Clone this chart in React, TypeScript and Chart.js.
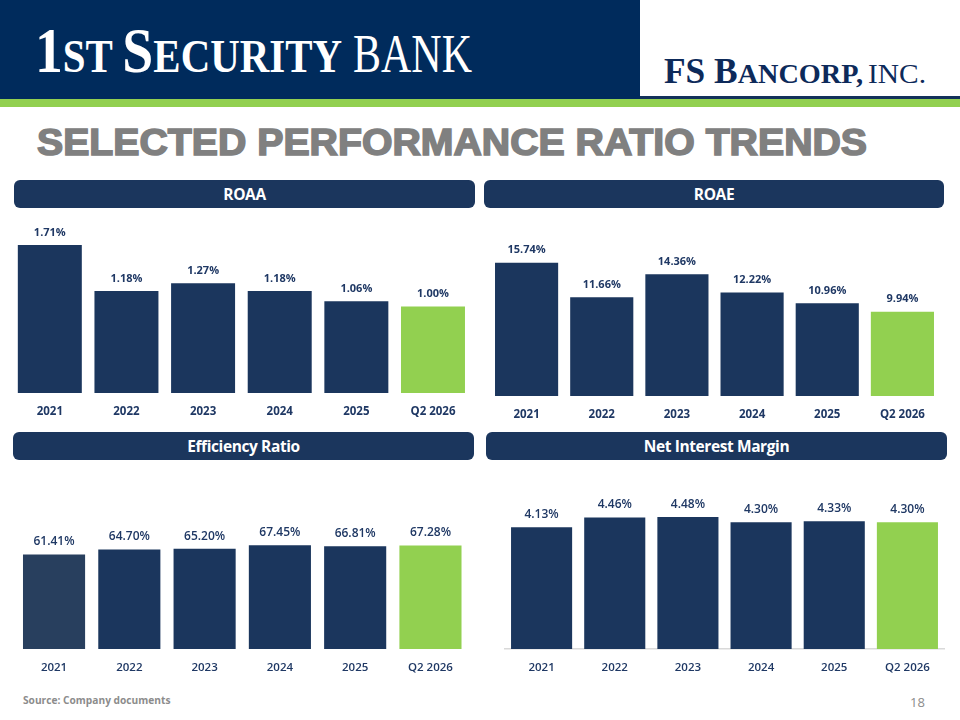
import React, { useEffect, useRef } from 'react';
import { Chart, registerables } from 'chart.js';

Chart.register(...registerables);

const years = ['2021', '2022', '2023', '2024', '2025', 'Q2 2026'];
const roaa = [1.71, 1.18, 1.27, 1.18, 1.06, 1.0];
const roae = [15.74, 11.66, 14.36, 12.22, 10.96, 9.94];
const efficiency = [61.41, 64.7, 65.2, 67.45, 66.81, 67.28];
const nim = [4.13, 4.46, 4.48, 4.3, 4.33, 4.3];

const NAVY = '#1b365d';
const GREEN = '#92d050';
const TEXT = '#1f3864';
const FONT = "'Open Sans', 'Noto Sans', sans-serif";

const navyThenGreen = [NAVY, NAVY, NAVY, NAVY, NAVY, GREEN];
const effColors = ['#283f5e', NAVY, NAVY, NAVY, NAVY, GREEN];

// draws the "x.xx%" figure above each bar
const valueLabels = {
  id: 'valueLabels',
  afterDatasetsDraw(chart: any, _args: any, opts: any) {
    const { ctx } = chart;
    const meta = chart.getDatasetMeta(0);
    ctx.save();
    ctx.font = opts.font;
    ctx.fillStyle = opts.color;
    ctx.textAlign = 'center';
    ctx.textBaseline = 'middle';
    meta.data.forEach((bar: any, i: number) => {
      const v = chart.data.datasets[0].data[i] as number;
      ctx.fillText(v.toFixed(2) + '%', bar.x, bar.y - opts.offset);
    });
    ctx.restore();
  },
};

interface BarPanelProps {
  title: string;
  values: number[];
  colors: string[];
  yMax: number;
  left: number;
  width: number;
  top: number; // canvas top
  plotTop: number; // chart area top (page coords)
  baseline: number; // chart area bottom (page coords)
  plotLeft: number;
  plotRight: number;
  barPct: number;
  valueFont: string;
  tickWeight: string | number;
  headerLeft: number;
  headerTop: number;
  headerWidth: number;
  axisLine?: boolean;
}

const TICK_SIZE = 11.5;
const TICK_PAD = 12;

const BarPanel: React.FC<BarPanelProps> = (p) => {
  const ref = useRef<HTMLCanvasElement>(null);
  // the x axis ends up taking the tick padding twice plus one line
  const axisH = 2 * TICK_PAD + TICK_SIZE * 1.2 + 1;
  const height = Math.ceil(p.baseline - p.top + axisH + 6);
  const padBottom = height - (p.baseline - p.top) - axisH;

  useEffect(() => {
    if (!ref.current) return;
    const chart = new Chart(ref.current, {
      type: 'bar',
      data: {
        labels: years,
        datasets: [
          {
            data: p.values,
            backgroundColor: p.colors,
            borderWidth: 0,
            barPercentage: p.barPct,
            categoryPercentage: 1,
          },
        ],
      },
      options: {
        animation: false,
        responsive: false,
        maintainAspectRatio: false,
        layout: {
          padding: {
            top: p.plotTop - p.top,
            bottom: padBottom,
            left: p.plotLeft - p.left,
            right: p.left + p.width - p.plotRight,
          },
        },
        plugins: {
          legend: { display: false },
          tooltip: { enabled: false },
          valueLabels: { font: p.valueFont, color: TEXT, offset: 12.5 },
        } as any,
        scales: {
          x: {
            grid: { display: false, drawTicks: false },
            border: { display: !!p.axisLine, color: '#d9d9d9', width: 1.5 },
            ticks: {
              padding: TICK_PAD,
              color: TEXT,
              font: { family: FONT, size: TICK_SIZE, weight: p.tickWeight as any },
            },
          },
          y: { display: false, min: 0, max: p.yMax },
        },
      },
      plugins: [valueLabels],
    });
    return () => chart.destroy();
  }, []);

  return (
    <>
      <div
        style={{
          position: 'absolute',
          left: p.headerLeft,
          top: p.headerTop,
          width: p.headerWidth,
          height: 28,
          lineHeight: '28px',
          borderRadius: 6,
          background: NAVY,
          color: '#fff',
          textAlign: 'center',
          fontFamily: FONT,
          fontWeight: 700,
          fontSize: 15.5,
          letterSpacing: -0.4,
        }}
      >
        {p.title}
      </div>
      <div style={{ position: 'absolute', left: p.left, top: p.top, width: p.width, height }}>
        <canvas ref={ref} width={p.width} height={height} style={{ width: p.width, height }} />
      </div>
    </>
  );
};

const Header: React.FC = () => (
  <svg width={960} height={170} style={{ position: 'absolute', left: 0, top: 0 }}>
    <rect x={0} y={0} width={640} height={100} fill="#002b5c" />
    <rect x={640} y={96} width={320} height={3} fill="#13315a" />
    <rect x={0} y={99} width={960} height={8} fill={GREEN} />
    <text
      x={35}
      y={72}
      fill="#fff"
      fontFamily="'Liberation Serif', serif"
      fontWeight="bold"
      textLength={307}
      lengthAdjust="spacingAndGlyphs"
    >
      <tspan fontSize={64}>1</tspan>
      <tspan fontSize={47}>ST </tspan>
      <tspan fontSize={64}>S</tspan>
      <tspan fontSize={47}>ECURITY</tspan>
    </text>
    <text
      x={353}
      y={72}
      fill="#fff"
      fontFamily="'Liberation Serif', serif"
      fontSize={54}
      textLength={119}
      lengthAdjust="spacingAndGlyphs"
    >
      BANK
    </text>
    <text
      x={664}
      y={83}
      fill="#0d2a5a"
      fontFamily="'Liberation Serif', serif"
      fontWeight="bold"
      textLength={199}
      lengthAdjust="spacingAndGlyphs"
    >
      <tspan fontSize={35}>FS </tspan>
      <tspan fontSize={35}>B</tspan>
      <tspan fontSize={28}>ANCORP,</tspan>
    </text>
    <text
      x={868}
      y={83}
      fill="#0d2a5a"
      fontFamily="'Liberation Serif', serif"
      fontSize={28}
      textLength={58}
      lengthAdjust="spacingAndGlyphs"
    >
      INC.
    </text>
    <text
      x={37}
      y={155}
      fill="#808080"
      stroke="#808080"
      strokeWidth={1.6}
      fontFamily="'Liberation Sans', Arial, sans-serif"
      fontWeight="bold"
      fontSize={37}
      textLength={830}
      lengthAdjust="spacingAndGlyphs"
    >
      SELECTED PERFORMANCE RATIO TRENDS
    </text>
  </svg>
);

export default function App() {
  return (
    <div
      style={{
        position: 'fixed',
        left: 0,
        top: 0,
        width: 960,
        height: 720,
        background: '#fff',
        overflow: 'hidden',
      }}
    >
      <Header />
      <BarPanel
        title="ROAA"
        values={roaa}
        colors={navyThenGreen}
        yMax={2}
        left={0}
        width={480}
        top={200}
        plotTop={220}
        baseline={392}
        plotLeft={11.5}
        plotRight={471.3}
        barPct={0.835}
        valueFont={`bold 11px ${FONT}`}
        tickWeight="bold"
        headerLeft={14}
        headerTop={180}
        headerWidth={461}
      />
      <BarPanel
        title="ROAE"
        values={roae}
        colors={navyThenGreen}
        yMax={20}
        left={480}
        width={480}
        top={200}
        plotTop={226.6}
        baseline={395}
        plotLeft={489}
        plotRight={940}
        barPct={0.84}
        valueFont={`bold 11px ${FONT}`}
        tickWeight="bold"
        headerLeft={484}
        headerTop={180}
        headerWidth={460}
      />
      <BarPanel
        title="Efficiency Ratio"
        values={efficiency}
        colors={effColors}
        yMax={100}
        left={0}
        width={480}
        top={470}
        plotTop={495.2}
        baseline={648}
        plotLeft={16.4}
        plotRight={468.1}
        barPct={0.825}
        valueFont={`600 12px ${FONT}`}
        tickWeight={600}
        headerLeft={13}
        headerTop={432}
        headerWidth={461}
      />
      <BarPanel
        title="Net Interest Margin"
        values={nim}
        colors={navyThenGreen}
        yMax={5}
        left={480}
        width={480}
        top={470}
        plotTop={501.6}
        baseline={648}
        plotLeft={505}
        plotRight={944}
        barPct={0.835}
        valueFont={`600 12px ${FONT}`}
        tickWeight={600}
        headerLeft={486}
        headerTop={432}
        headerWidth={461}
        axisLine
      />
      <div
        style={{
          position: 'absolute',
          left: 23,
          top: 693,
          fontFamily: FONT,
          fontSize: 10.2,
          fontWeight: 700,
          color: '#8c8c8c',
        }}
      >
        Source: Company documents
      </div>
      <div
        style={{
          position: 'absolute',
          left: 910,
          top: 693,
          fontFamily: FONT,
          fontSize: 13,
          color: '#8c8c8c',
        }}
      >
        18
      </div>
    </div>
  );
}
